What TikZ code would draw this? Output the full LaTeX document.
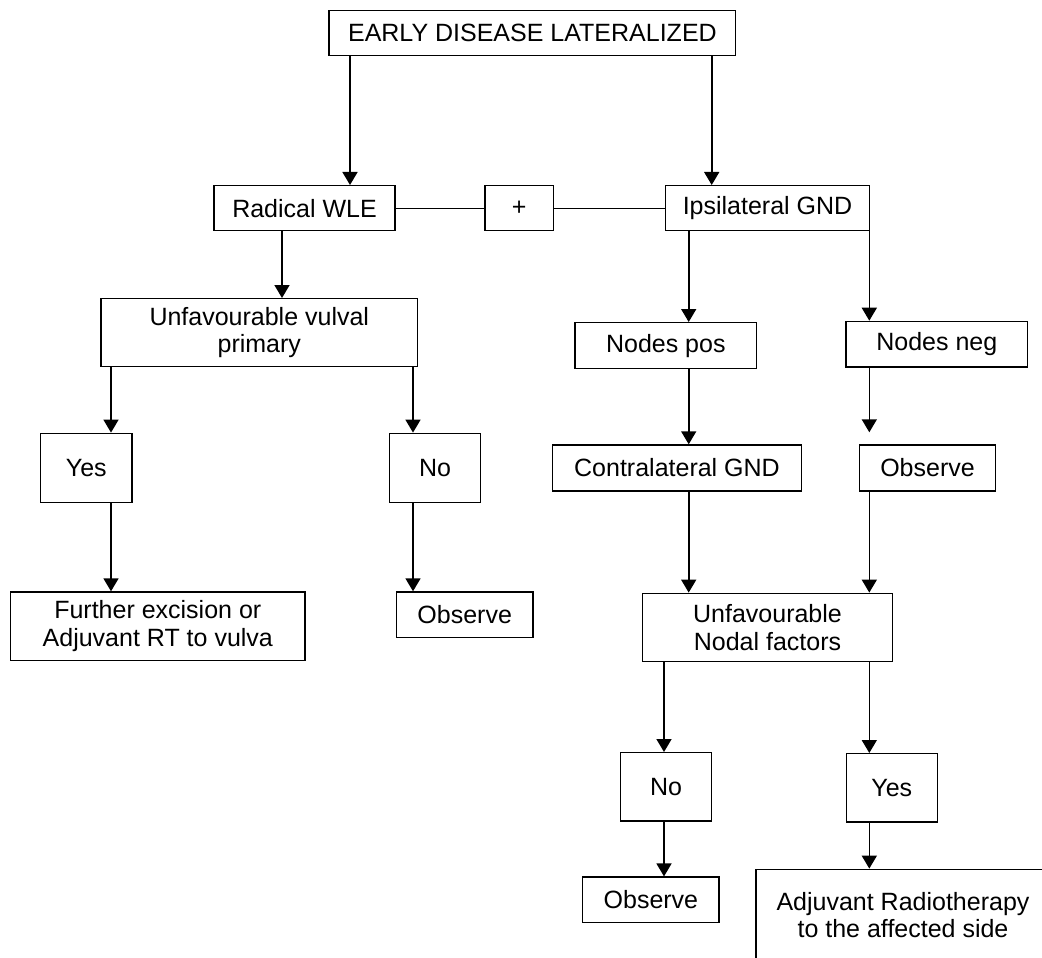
\documentclass[tikz,border=0pt]{standalone}
\usepackage{fontspec}
\setmainfont{Liberation Sans}
\usetikzlibrary{arrows.meta}

\tikzset{
    box/.style={draw, line width=0.7pt, align=center, inner sep=2pt,
        font=\fontsize{12.5pt}{13.8pt}\selectfont},
    arr/.style={line width=0.8pt, -{Triangle[width=7.5pt,length=6.5pt]}}
}

\begin{document}
\begin{tikzpicture}[x=0.5pt, y=-0.5pt]
    \useasboundingbox (0,0) rectangle (1042,957);
    \clip (0,0) rectangle (1042,957);
    \node[box, minimum width=203.3pt, minimum height=22.5pt] (early) at (532.4,33.2) {EARLY DISEASE LATERALIZED};
    \node[box, minimum width=90.5pt, minimum height=22.5pt] (rad) at (304.5,208.2) {Radical WLE};
    \node[box, minimum width=34.2pt, minimum height=22.5pt] (plus) at (519.2,208.2) {+};
    \node[box, minimum width=101.8pt, minimum height=22.5pt] (ipsi) at (767.5,208.2) {Ipsilateral GND};
    \node[box, minimum width=158.3pt, minimum height=34pt] (unfv) at (259.3,332.7) {Unfavourable vulval\\primary};
    \node[box, minimum width=45.7pt, minimum height=34.5pt] (yesa) at (86.3,467.8) {Yes};
    \node[box, minimum width=45.3pt, minimum height=34.5pt] (noa) at (435,467.8) {No};
    \node[box, minimum width=147.2pt, minimum height=34.2pt] (furth) at (157.8,626.2) {Further excision or\\Adjuvant RT to vulva};
    \node[box, minimum width=68.3pt, minimum height=22.8pt] (obsa) at (464.7,614.8) {Observe};
    \node[box, minimum width=90.8pt, minimum height=23pt] (npos) at (665.8,345.7) {Nodes pos};
    \node[box, minimum width=90.8pt, minimum height=22.8pt] (nneg) at (936.8,344.2) {Nodes neg};
    \node[box, minimum width=124.7pt, minimum height=23pt] (contra) at (677,468) {Contralateral GND};
    \node[box, minimum width=68.2pt, minimum height=23pt] (obsb) at (927.5,468) {Observe};
    \node[box, minimum width=124.8pt, minimum height=34.2pt] (unfn) at (767.5,627.5) {Unfavourable\\Nodal factors};
    \node[box, minimum width=45.7pt, minimum height=34.2pt] (nob) at (666,786.9) {No};
    \node[box, minimum width=45.5pt, minimum height=34.2pt] (yesb) at (891.8,787.9) {Yes};
    \node[box, minimum width=68.2pt, minimum height=22.8pt] (obsc) at (650.9,899.9) {Observe};
    \node[box, minimum width=147pt, minimum height=45.9pt] (adj) at (903,915.2) {Adjuvant Radiotherapy\\to the affected side};

    \coordinate (la) at (350,0);
    \coordinate (lb) at (711.7,0);
    \coordinate (lc) at (282,0);
    \coordinate (ld) at (111,0);
    \coordinate (le) at (413,0);
    \coordinate (lf) at (688.7,0);
    \coordinate (lg) at (869.3,0);
    \coordinate (lh) at (664,0);

    \draw[arr] (early.south -| la) -- (rad.north -| la);
    \draw[arr] (early.south -| lb) -- (ipsi.north -| lb);
    \draw[line width=0.7pt] (rad) -- (plus);
    \draw[line width=0.7pt] (plus) -- (ipsi);
    \draw[arr] (rad.south -| lc) -- (unfv.north -| lc);
    \draw[arr] (unfv.south -| ld) -- (yesa.north -| ld);
    \draw[arr] (yesa.south -| ld) -- (furth.north -| ld);
    \draw[arr] (unfv.south -| le) -- (noa.north -| le);
    \draw[arr] (noa.south -| le) -- (obsa.north -| le);
    \draw[arr] (ipsi.south -| lf) -- (npos.north -| lf);
    \draw[arr] (npos.south -| lf) -- (contra.north -| lf);
    \draw[arr] (contra.south -| lf) -- (unfn.north -| lf);
    \draw[arr] (ipsi.south -| lg) -- (nneg.north -| lg);
    \draw[arr, shorten >=6pt] (nneg.south -| lg) -- (obsb.north -| lg);
    \draw[arr] (obsb.south -| lg) -- (unfn.north -| lg);
    \draw[arr] (unfn.south -| lg) -- (yesb.north -| lg);
    \draw[arr] (yesb.south -| lg) -- (adj.north -| lg);
    \draw[arr] (unfn.south -| lh) -- (nob.north -| lh);
    \draw[arr] (nob.south -| lh) -- (obsc.north -| lh);
\end{tikzpicture}
\end{document}
